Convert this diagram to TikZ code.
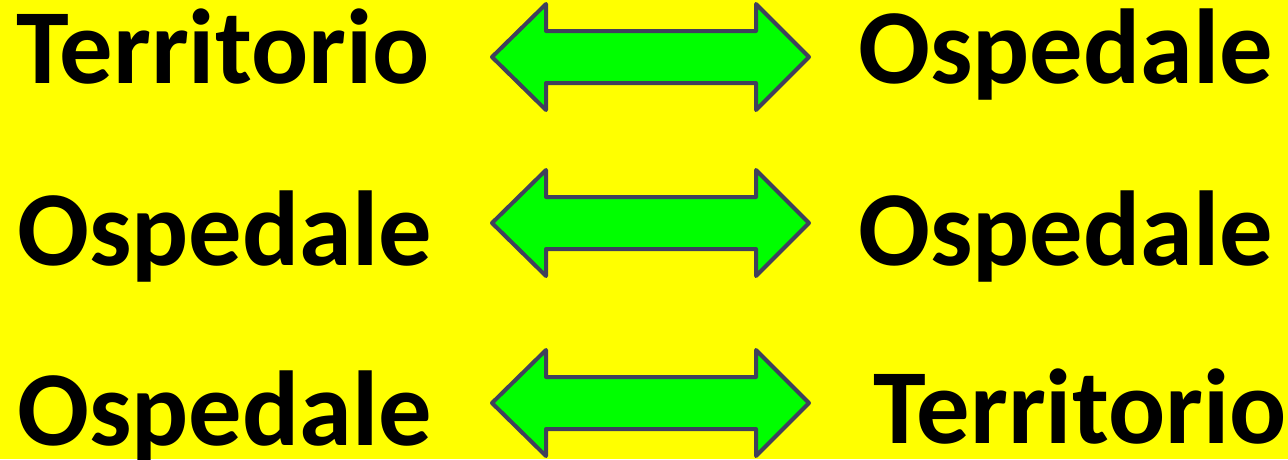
\documentclass[tikz,border=0pt]{standalone}
\usepackage{fontspec}
\setmainfont{Carlito}
\definecolor{bgyellow}{RGB}{255,255,0}
\definecolor{arrowgreen}{RGB}{0,255,0}
\definecolor{arrowline}{RGB}{64,64,92}
\tikzset{
  word/.style={anchor=base west,inner sep=0pt,font=\fontsize{106.5}{112}\selectfont\bfseries},
  dblarrow/.style={draw=arrowline,fill=arrowgreen,line width=4pt,line join=round}
}
\begin{document}
\begin{tikzpicture}[x=1pt,y=-1pt]
\fill[bgyellow] (0,0) rectangle (1288,459);
\useasboundingbox (0,0) rectangle (1288,459);
% left column
\node[word] (left1) at (16,83) {Territorio};
\node[word] (left2) at (17,265) {Ospedale};
\node[word] (left3) at (17,445) {Ospedale};
% right column
\node[word] (right1) at (858,83) {Ospedale};
\node[word] (right2) at (858,265) {Ospedale};
\node[word] (right3) at (873,443) {Territorio};
% double arrows, \y = middle of the row
\foreach \y in {57,223,403}
  \draw[dblarrow] (492,\y) -- (546,\y-53) -- (546,\y-26) -- (756,\y-26) -- (756,\y-53)
    -- (809,\y) -- (756,\y+53) -- (756,\y+26) -- (546,\y+26) -- (546,\y+53) -- cycle;
\end{tikzpicture}
\end{document}
